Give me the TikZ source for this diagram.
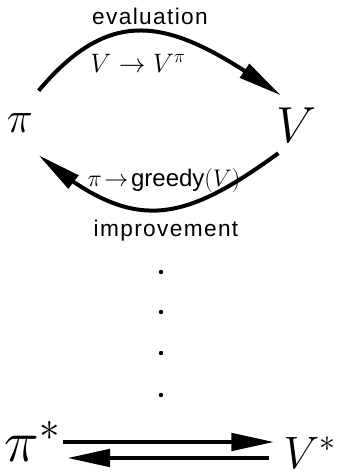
\RequirePackage{fix-cm}
\documentclass[tikz,border=0pt]{standalone}
\usepackage{amsmath,amssymb}
\usepackage{fontspec}
\newfontfamily\stepfont[LetterSpace=6]{Liberation Sans}
\newfontfamily\greedyfont{Liberation Sans}
\usepackage{tikz}
\usetikzlibrary{arrows.meta,bending,positioning,calc}
\tikzset{
	statelabel/.style={circle, inner sep=0pt, font=\fontsize{33}{36}\selectfont},
	limitlabel/.style={rectangle, inner sep=1pt, anchor=base west},
	steptext/.style={font=\stepfont\fontsize{17}{20}\selectfont, inner sep=0pt},
	maptext/.style={font=\fontsize{18}{20}\selectfont, inner sep=0pt},
	cyclearr/.style={-{Triangle[length=33pt, width=12pt]}, line width=3pt},
	limitarr/.style={-{Triangle[length=32pt, width=13pt]}, line width=3pt}
}

\begin{document}
\begin{tikzpicture}[x=0.75pt, y=0.75pt]
	\useasboundingbox (0,0) rectangle (337,475);
	\node[statelabel, minimum size=55.5pt] (pi) at (20,352) {$\pi$};
	\node[statelabel, minimum size=49.5pt, font=\fontsize{38}{40}\selectfont] (v) at (296,350) {$V$};
	\draw[cyclearr] (pi.60) to[out=50, in=145, looseness=1.3] (v.117);
	\draw[cyclearr] (v.238) to[out=216, in=320, looseness=1.3] (pi.-60);
	\node[steptext] (eval) at (150,459) {evaluation};
	\node[maptext, font=\fontsize{20}{22}\selectfont] (evalmap) at (138,412) {$V \rightarrow V^{\pi}$};
	\node[maptext] (improvemap) at (164,294) {$\pi\!\rightarrow\!\text{\greedyfont greedy}(V)$};
	\node[steptext] (improve) at (166,244) {improvement};
	% dots between the cycle and the limit
	\foreach \y in {203,163,122,80}
		\fill (161,\y) circle (2.2);
	\node[limitlabel, font=\fontsize{44}{46}\selectfont] (pistar) at (3,13) {$\pi^*$};
	\node[limitlabel, font=\fontsize{34}{36}\selectfont] (vstar) at (282,7) {$V^*$};
	\draw[limitarr, shorten <=1pt, shorten >=6pt] ([yshift=15pt]pistar.base east) -- ([yshift=15pt]pistar.base east -| vstar.west);
	\draw[limitarr, shorten <=10pt, shorten >=4pt] ([yshift=3pt]pistar.base east -| vstar.west) -- ([yshift=3pt]pistar.base east);
\end{tikzpicture}
\end{document}
